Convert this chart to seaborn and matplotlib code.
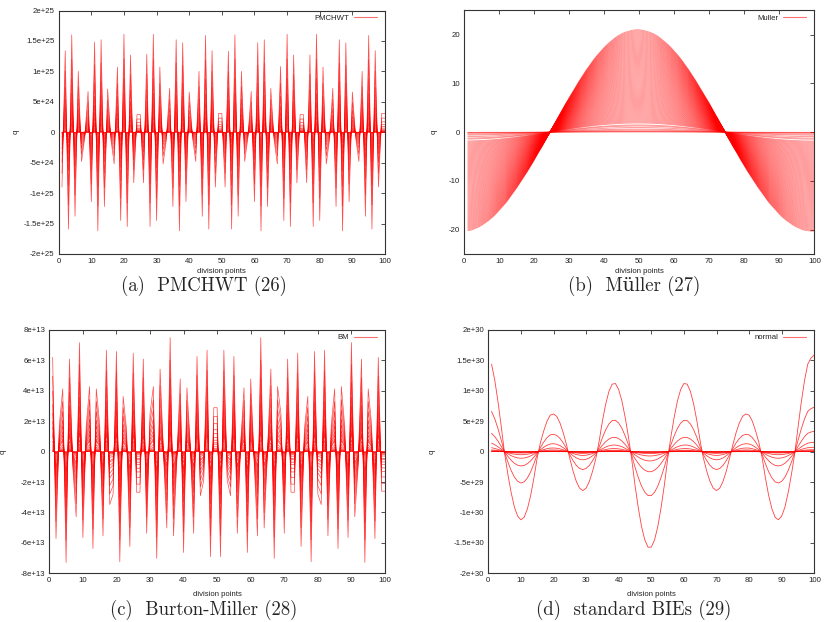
import numpy as np
import pandas as pd
import matplotlib
matplotlib.use('Agg')
import matplotlib.pyplot as plt
import seaborn as sns
from matplotlib.lines import Line2D

'''
Four gnuplot-like panels: q over the division points for
PMCHWT, Muller, Burton-Miller and the standard BIEs.
Every panel is a family of curves, scaled copies of the largest one.
'''

# Style Setting
sns.set_style("white")
plt.rcParams.update({'font.family': ['Liberation Sans', 'DejaVu Sans'], 'font.size': 5.6})

### Data ###
division_points = list(range(1, 101))

# (a) PMCHWT, largest curve in units of 1e25
q_pmchwt = [-0.90, 1.34, -1.59, 1.60, -1.38, 1.00, -0.48, -0.08, 0.67, -1.14,
            1.48, -1.62, 1.52, -1.22, 0.71, -0.12, -0.52, 1.07, -1.45, 1.61,
            -1.55, 1.27, -0.83, 0.29, 0.29, -0.83, 1.28, -1.55, 1.61, -1.45,
            1.07, -0.52, -0.12, 0.72, -1.22, 1.52, -1.62, 1.47, -1.14, 0.66,
            -0.08, -0.48, 1.00, -1.38, 1.59, -1.59, 1.34, -0.90, 0.31, 0.31,
            -0.90, 1.33, -1.59, 1.60, -1.38, 1.00, -0.48, -0.08, 0.67, -1.14,
            1.47, -1.62, 1.52, -1.22, 0.72, -0.12, -0.52, 1.08, -1.45, 1.61,
            -1.55, 1.27, -0.83, 0.29, 0.29, -0.83, 1.27, -1.55, 1.61, -1.45,
            1.07, -0.52, -0.12, 0.72, -1.22, 1.52, -1.62, 1.47, -1.14, 0.66,
            -0.08, -0.48, 1.00, -1.38, 1.59, -1.59, 1.34, -0.90, 0.31, 0.31]
ratios_pmchwt = [1.0, 0.75, 0.55, 0.4, 0.3, 0.22, 0.16, 0.11, 0.08, 0.05, 0.03,
                 0.018, 0.01, 0.006, 0.003, 0.001]

# (b) Muller
q_muller = [-20.2, -20.1, -19.8, -19.5, -19.1, -18.6, -18.1, -17.5, -16.8, -16.0,
            -15.2, -14.4, -13.4, -12.4, -11.4, -10.3, -9.2, -8.1, -6.9, -5.7,
            -4.4, -3.2, -1.9, -0.6, 0.7, 2.0, 3.3, 4.6, 5.9, 7.1,
            8.3, 9.5, 10.7, 11.8, 12.9, 13.9, 14.9, 15.8, 16.6, 17.4,
            18.1, 18.7, 19.3, 19.8, 20.2, 20.5, 20.7, 20.9, 21.0, 21.0,
            20.9, 20.7, 20.5, 20.2, 19.8, 19.3, 18.7, 18.1, 17.4, 16.6,
            15.8, 14.9, 13.9, 12.9, 11.8, 10.7, 9.5, 8.3, 7.1, 5.9,
            4.6, 3.3, 2.0, 0.7, -0.6, -1.9, -3.2, -4.4, -5.7, -6.9,
            -8.1, -9.2, -10.3, -11.4, -12.4, -13.4, -14.4, -15.2, -16.0, -16.8,
            -17.5, -18.1, -18.6, -19.1, -19.5, -19.8, -20.1, -20.2, -20.3, -20.3]
ratios_muller = [1.00, 0.99, 0.98, 0.97, 0.96, 0.95, 0.94, 0.93, 0.92, 0.91,
                 0.90, 0.89, 0.88, 0.87, 0.86, 0.85, 0.84, 0.83, 0.82, 0.81,
                 0.80, 0.79, 0.78, 0.77, 0.76, 0.75, 0.74, 0.73, 0.72, 0.71,
                 0.70, 0.69, 0.68, 0.67, 0.66, 0.65, 0.64, 0.63, 0.62, 0.61,
                 0.60, 0.59, 0.58, 0.57, 0.56, 0.55, 0.54, 0.53, 0.52, 0.51,
                 0.50, 0.49, 0.48, 0.47, 0.46, 0.45, 0.44, 0.43, 0.42, 0.41,
                 0.40, 0.39, 0.38, 0.37, 0.36, 0.35, 0.34, 0.33, 0.32, 0.31,
                 0.30, 0.29, 0.28, 0.27, 0.26, 0.25, 0.24, 0.23, 0.22, 0.21,
                 0.20, 0.19, 0.18, 0.17, 0.16, 0.15, 0.14, 0.13, 0.12, 0.11,
                 0.10, 0.09, 0.07, 0.06, 0.045, 0.03, 0.02, 0.01, 0.005, 0.002]

# (c) Burton-Miller, units of 1e13
q_bm = [6.2, -5.72, 1.8, 4.13, -7.28, 6.09, -1.0, -4.28, 7.17, -5.65,
        1.7, 4.28, -6.37, 4.13, 1.8, -5.54, 6.67, -3.48, -2.8, 6.59,
        -7.24, 3.63, 1.5, -6.24, 6.48, -2.67, -2.67, 6.09, -5.37, 2.5,
        4.28, -7.02, 5.43, 0.0, -5.02, 7.5, -5.54, -0.5, 4.78, -6.63,
        4.2, 0.5, -5.37, 6.26, -2.9, -1.9, 6.67, -6.9, 2.89, 2.89,
        -6.9, 6.67, -1.9, -2.9, 6.26, -5.37, 0.5, 4.2, -6.63, 4.78,
        -0.5, -5.54, 7.5, -5.02, 0.0, 5.43, -7.02, 4.28, 2.5, -5.37,
        6.09, -2.67, -2.67, 6.48, -6.24, 1.5, 3.63, -7.24, 6.59, -2.8,
        -3.48, 6.67, -5.54, 1.8, 4.13, -6.37, 4.28, 1.7, -5.65, 7.17,
        -4.28, -1.0, 6.09, -7.28, 4.13, 1.8, -5.72, 6.2, -2.6, -2.6]
ratios_bm = [1.0, 0.8, 0.64, 0.5, 0.41, 0.32, 0.26, 0.2, 0.17, 0.11, 0.07,
             0.045, 0.03, 0.02, 0.012, 0.008, 0.004, 0.002]

# (d) standard BIEs, units of 1e30
q_normal = [1.44, 1.17, 0.81, 0.40, -0.03, -0.37, -0.67, -0.91, -1.06, -1.12,
            -1.08, -0.94, -0.72, -0.43, -0.10, 0.15, 0.34, 0.50, 0.60, 0.62,
            0.58, 0.47, 0.31, 0.11, -0.11, -0.32, -0.49, -0.60, -0.64, -0.60,
            -0.49, -0.32, -0.11, 0.17, 0.50, 0.78, 0.99, 1.11, 1.12, 1.02,
            0.83, 0.56, 0.24, -0.13, -0.55, -0.92, -1.23, -1.45, -1.57, -1.57,
            -1.45, -1.23, -0.92, -0.55, -0.13, 0.24, 0.56, 0.83, 1.02, 1.12,
            1.11, 0.99, 0.78, 0.50, 0.17, -0.11, -0.32, -0.49, -0.60, -0.64,
            -0.60, -0.49, -0.32, -0.11, 0.11, 0.31, 0.47, 0.58, 0.62, 0.60,
            0.50, 0.34, 0.15, -0.10, -0.43, -0.72, -0.94, -1.08, -1.12, -1.06,
            -0.91, -0.67, -0.37, -0.03, 0.40, 0.81, 1.17, 1.44, 1.54, 1.59]
ratios_normal = [1.0, 0.46, 0.21, 0.097, 0.045, 0.02, 0.01, 0.005, 0.002, 0.001]

xticks = [0, 10, 20, 30, 40, 50, 60, 70, 80, 90, 100]

yticks_pmchwt = [-2e25, -1.5e25, -1e25, -5e24, 0, 5e24, 1e25, 1.5e25, 2e25]
ylabels_pmchwt = ['-2e+25', '-1.5e+25', '-1e+25', '-5e+24', '0', '5e+24', '1e+25', '1.5e+25', '2e+25']
yticks_muller = [-20, -10, 0, 10, 20]
ylabels_muller = ['-20', '-10', '0', '10', '20']
ylim_muller = (-25, 25)
yticks_bm = [-8e13, -6e13, -4e13, -2e13, 0, 2e13, 4e13, 6e13, 8e13]
ylabels_bm = ['-8e+13', '-6e+13', '-4e+13', '-2e+13', '0', '2e+13', '4e+13', '6e+13', '8e+13']
yticks_normal = [-2e30, -1.5e30, -1e30, -5e29, 0, 5e29, 1e30, 1.5e30, 2e30]
ylabels_normal = ['-2e+30', '-1.5e+30', '-1e+30', '-5e+29', '0', '5e+29', '1e+30', '1.5e+30', '2e+30']

### Config ###
W, H = 830, 622
red = '#ff0000'
frame = '#333333'
text_col = '#222222'

# base, ratios, unit, yticks, ylabels, ylim, key, caption,
# axes box in pixels (left, top, right, bottom), ylabel x (axes fraction),
# xlabel y (axes fraction), caption centre in pixels, line alpha, line width
panels = [
    (q_pmchwt, ratios_pmchwt, 1e25, yticks_pmchwt, ylabels_pmchwt, None, 'PMCHWT',
     '(a)  PMCHWT (26)', (58.7, 10.5, 385, 254), -0.12, -0.056, (204, 286), 0.7, 0.5),
    (q_muller, ratios_muller, 1.0, yticks_muller, ylabels_muller, ylim_muller, 'Muller',
     '(b)  Müller (27)', (464.3, 10.3, 814.3, 254), -0.077, -0.056, (634, 286), 0.45, 0.6),
    (q_bm, ratios_bm, 1e13, yticks_bm, ylabels_bm, None, 'BM',
     '(c)  Burton-Miller (28)', (49.3, 330, 385, 573.3), -0.126, -0.074, (204, 610), 0.7, 0.5),
    (q_normal, ratios_normal, 1e30, yticks_normal, ylabels_normal, None, 'normal',
     '(d)  standard BIEs (29)', (488.3, 330, 814.3, 573.3), -0.161, -0.074, (634, 610), 0.75, 0.6),
]

fig = plt.figure(figsize=(W / 100, H / 100), dpi=100)

for (base, ratios, unit, yt, yl, ylim, key, caption, box, ylab_x, xlab_y,
     cap_xy, alpha, lw) in panels:
    l, t, r, b = box
    ax = fig.add_axes([l / W, 1 - b / H, (r - l) / W, (b - t) / H])

    # long table: one row per point of every scaled copy
    df = pd.DataFrame({
        'division points': np.tile(division_points, len(ratios)),
        'q': np.outer(ratios, base).ravel() * unit,
        'curve': np.repeat(np.arange(len(ratios)), len(division_points)),
    })
    sns.lineplot(data=df, x='division points', y='q', units='curve', estimator=None,
                 sort=False, color=red, lw=lw, alpha=alpha, legend=False, ax=ax)

    # axes
    ax.set_xlim(0, 100)
    ax.set_ylim(ylim if ylim else (yt[0], yt[-1]))
    ax.set_xticks(xticks, [str(v) for v in xticks])
    ax.set_yticks(yt, yl)
    ax.tick_params(direction='in', length=3, width=0.6, color=frame, labelcolor=text_col,
                   top=True, right=True, pad=3, labelsize=5.6)
    for s in ax.spines.values():
        s.set_color(frame)
        s.set_linewidth(0.8)
    ax.set_xlabel('division points', fontsize=5.6, color=text_col)
    ax.xaxis.set_label_coords(0.5, xlab_y)
    ax.set_ylabel('q', fontsize=5.6, color=text_col)
    ax.yaxis.set_label_coords(ylab_x, 0.5)

    # gnuplot style key: text first, sample line after
    ax.legend([Line2D([], [], color='#ff7070', lw=0.8)], [key], loc='center right',
              bbox_to_anchor=(1 - 8 / (r - l), 1 - 7.5 / (b - t)), frameon=False,
              markerfirst=False, handlelength=3.0, handletextpad=0.6, borderpad=0,
              borderaxespad=0, fontsize=5.6, labelcolor=text_col)

    fig.text(cap_xy[0] / W, 1 - cap_xy[1] / H, caption, ha='center', va='center',
             fontsize=13.5, family=['cmr10', 'DejaVu Serif'])

fig.savefig('out.png', dpi=100)
